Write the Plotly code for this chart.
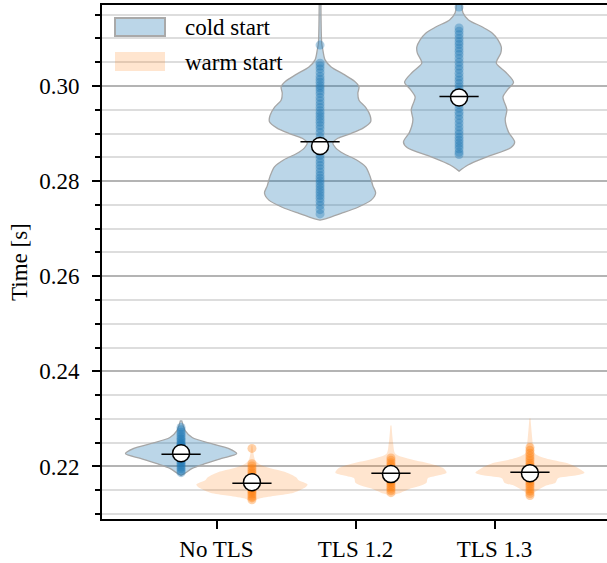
import plotly.graph_objects as go

# ---------------- data ----------------
categories = ["No TLS", "TLS 1.2", "TLS 1.3"]
hues = ["cold start", "warm start"]

# violin outlines: y value (s) and relative half-width (0..1)
cold_notls_y = [0.2297, 0.2282, 0.2276, 0.2261, 0.2248, 0.2238, 0.2227, 0.2217, 0.2206, 0.2196, 0.2185, 0.2181]
cold_notls_w = [0.01, 0.05, 0.07, 0.20, 0.55, 0.85, 1.00, 0.73, 0.43, 0.20, 0.06, 0.00]

cold_tls12_y = [0.3180, 0.3090, 0.3076, 0.3055, 0.3040, 0.3025, 0.3010, 0.2998, 0.2985, 0.2970, 0.2955,
                0.2938, 0.2925, 0.2912, 0.2900, 0.2890, 0.2880, 0.2870, 0.2858, 0.2845, 0.2830, 0.2810,
                0.2790, 0.2775, 0.2760, 0.2745, 0.2732, 0.2724, 0.2718]
cold_tls12_w = [0.015, 0.03, 0.05, 0.09, 0.20, 0.42, 0.62, 0.70, 0.68, 0.70, 0.82,
                0.90, 0.91, 0.78, 0.55, 0.32, 0.23, 0.28, 0.42, 0.65, 0.82, 0.90,
                0.95, 1.00, 0.92, 0.68, 0.38, 0.18, 0.00]

cold_tls13_y = [0.3180, 0.3170, 0.3154, 0.3139, 0.3124, 0.3111, 0.3097, 0.3082, 0.3069, 0.3048, 0.3029,
                0.3008, 0.2992, 0.2977, 0.2950, 0.2929, 0.2903, 0.2882, 0.2870, 0.2851, 0.2834, 0.2821]
cold_tls13_w = [0.05, 0.05, 0.07, 0.17, 0.42, 0.60, 0.70, 0.76, 0.75, 0.67, 0.84,
                0.98, 0.87, 0.79, 0.86, 0.83, 0.89, 1.00, 0.93, 0.50, 0.16, 0.00]

warm_notls_y = [0.2244, 0.2213, 0.2202, 0.2187, 0.2177, 0.2171, 0.2162, 0.2154, 0.2145, 0.2139, 0.2133, 0.2126]
warm_notls_w = [0.01, 0.06, 0.18, 0.63, 0.80, 0.84, 1.00, 0.93, 0.75, 0.45, 0.15, 0.00]

warm_tls12_y = [0.2286, 0.2248, 0.2227, 0.2217, 0.2206, 0.2196, 0.2187, 0.2181, 0.2175, 0.2166, 0.2160, 0.2154, 0.2145, 0.2139]
warm_tls12_w = [0.01, 0.04, 0.08, 0.30, 0.71, 0.95, 1.00, 0.84, 0.66, 0.64, 0.54, 0.36, 0.18, 0.00]

warm_tls13_y = [0.2301, 0.2240, 0.2227, 0.2215, 0.2206, 0.2196, 0.2187, 0.2181, 0.2175, 0.2166, 0.2160, 0.2150, 0.2139]
warm_tls13_w = [0.01, 0.06, 0.09, 0.35, 0.70, 0.88, 0.98, 0.82, 0.50, 0.46, 0.29, 0.14, 0.00]

# individual observations (strip points)
cold_notls_pts = [0.2282, 0.2277, 0.2272, 0.2268, 0.2263, 0.2259, 0.2256, 0.2252, 0.2249, 0.2246, 0.2244,
                  0.2242, 0.2240, 0.2238, 0.2236, 0.2234, 0.2232, 0.2231, 0.2229, 0.2227, 0.2225, 0.2223,
                  0.2222, 0.2220, 0.2218, 0.2216, 0.2213, 0.2210, 0.2207, 0.2203, 0.2199, 0.2195, 0.2191, 0.2187]
cold_tls12_pts = [0.3086, 0.3048, 0.3042, 0.3036, 0.3028, 0.3020, 0.3014, 0.3008, 0.3001, 0.2996, 0.2990,
                  0.2984, 0.2976, 0.2969, 0.2962, 0.2955, 0.2948, 0.2942, 0.2936, 0.2930, 0.2924, 0.2917,
                  0.2910, 0.2902, 0.2893, 0.2884, 0.2871, 0.2862, 0.2854, 0.2847, 0.2840, 0.2833, 0.2826,
                  0.2819, 0.2812, 0.2806, 0.2800, 0.2794, 0.2788, 0.2782, 0.2776, 0.2770, 0.2764, 0.2757,
                  0.2749, 0.2740, 0.2731]
cold_tls13_pts = [0.3166, 0.3122, 0.3115, 0.3108, 0.3100, 0.3093, 0.3087, 0.3080, 0.3073, 0.3066, 0.3058,
                  0.3050, 0.3042, 0.3035, 0.3027, 0.3019, 0.3012, 0.3005, 0.2998, 0.2991, 0.2984, 0.2977,
                  0.2969, 0.2961, 0.2953, 0.2945, 0.2938, 0.2930, 0.2922, 0.2914, 0.2906, 0.2899, 0.2892,
                  0.2886, 0.2880, 0.2874, 0.2868, 0.2861, 0.2856]
warm_notls_pts = [0.2238, 0.2206, 0.2201, 0.2196, 0.2191, 0.2187, 0.2183, 0.2179, 0.2176, 0.2173, 0.2170,
                  0.2167, 0.2164, 0.2161, 0.2158, 0.2155, 0.2152, 0.2149, 0.2146, 0.2142, 0.2138, 0.2134, 0.2130]
warm_tls12_pts = [0.2218, 0.2213, 0.2208, 0.2204, 0.2200, 0.2196, 0.2193, 0.2190, 0.2187, 0.2184, 0.2181,
                  0.2178, 0.2175, 0.2172, 0.2169, 0.2166, 0.2162, 0.2158, 0.2154, 0.2150, 0.2145]
warm_tls13_pts = [0.2240, 0.2234, 0.2228, 0.2222, 0.2217, 0.2212, 0.2207, 0.2203, 0.2199, 0.2195, 0.2191,
                  0.2188, 0.2185, 0.2182, 0.2179, 0.2176, 0.2173, 0.2170, 0.2166, 0.2162, 0.2158, 0.2153,
                  0.2148, 0.2143, 0.2139]

# means (circles) and medians (horizontal bars)
cold_means = [0.2228, 0.2874, 0.2976]
cold_medians = [0.2226, 0.2883, 0.2978]
warm_means = [0.2167, 0.2184, 0.2186]
warm_medians = [0.2165, 0.2186, 0.2188]

y_ticks = [0.22, 0.24, 0.26, 0.28, 0.30]
y_tick_labels = ["0.22", "0.24", "0.26", "0.28", "0.30"]

# ---------------- styling ----------------
FONT = "Liberation Serif"
FS = 23
HW = 0.40       # max half-width of a violin (x units)
OFF = 0.255     # dodge offset of the two hues
W, H = 607, 563
ML, MR, MT, MB = 102, 0, 5, 44

cold_fill = "rgba(31,119,180,0.30)"
warm_fill = "rgba(255,127,14,0.20)"
cold_edge = "#a6a6a6"
cold_dot = "rgba(31,119,180,0.36)"
warm_dot = "rgba(255,127,14,0.36)"

profiles = {
    "cold start": [(cold_notls_y, cold_notls_w), (cold_tls12_y, cold_tls12_w), (cold_tls13_y, cold_tls13_w)],
    "warm start": [(warm_notls_y, warm_notls_w), (warm_tls12_y, warm_tls12_w), (warm_tls13_y, warm_tls13_w)],
}
points = {
    "cold start": [cold_notls_pts, cold_tls12_pts, cold_tls13_pts],
    "warm start": [warm_notls_pts, warm_tls12_pts, warm_tls13_pts],
}
means = {"cold start": cold_means, "warm start": warm_means}
medians = {"cold start": cold_medians, "warm start": warm_medians}
offsets = {"cold start": -OFF, "warm start": OFF}
fills = {"cold start": cold_fill, "warm start": warm_fill}
dots = {"cold start": cold_dot, "warm start": warm_dot}

fig = go.Figure()

# violins
for hue in hues:
    for i, (ys, ws) in enumerate(profiles[hue]):
        c = i + offsets[hue]
        xs = [c + w * HW for w in ws] + [c - w * HW for w in reversed(ws)]
        yy = list(ys) + list(reversed(ys))
        if hue == "cold start":
            line = dict(color=cold_edge, width=1.3, shape="spline", smoothing=0.8)
        else:
            line = dict(color="rgba(0,0,0,0)", width=0, shape="spline", smoothing=0.8)
        fig.add_trace(go.Scatter(x=xs, y=yy, mode="lines", fill="toself", fillcolor=fills[hue],
                                 line=line, hoverinfo="skip", showlegend=False))

# strip points
for hue in hues:
    for i, pts in enumerate(points[hue]):
        c = i + offsets[hue]
        fig.add_trace(go.Scatter(x=[c] * len(pts), y=pts, mode="markers",
                                 marker=dict(size=9, color=dots[hue], line=dict(width=0)),
                                 hoverinfo="skip", showlegend=False))

# mean circles and median bars
for hue in hues:
    xs = [i + offsets[hue] for i in range(len(categories))]
    fig.add_trace(go.Scatter(x=xs, y=means[hue], mode="markers",
                             marker=dict(symbol="circle", size=17, color="white",
                                         line=dict(color="black", width=1.5)),
                             hoverinfo="skip", showlegend=False))
    fig.add_trace(go.Scatter(x=xs, y=medians[hue], mode="markers",
                             marker=dict(symbol="line-ew", size=28,
                                         line=dict(color="black", width=1.5)),
                             hoverinfo="skip", showlegend=False))

# ---------------- manual legend ----------------
def px(xp):
    return (xp - ML) / (W - ML - MR)

def py(yp):
    return 1 - (yp - MT) / (H - MT - MB)

fig.add_shape(type="rect", xref="paper", yref="paper", x0=px(115), x1=px(165), y0=py(36), y1=py(18),
              fillcolor=cold_fill, line=dict(color="#a9a9a9", width=2), layer="above")
fig.add_shape(type="rect", xref="paper", yref="paper", x0=px(115), x1=px(165), y0=py(71), y1=py(52),
              fillcolor=warm_fill, line=dict(width=0), layer="above")
fig.add_annotation(x=px(183), y=py(28), xref="paper", yref="paper", text=hues[0], showarrow=False,
                   xanchor="left", yanchor="middle", font=dict(family=FONT, size=FS, color="black"))
fig.add_annotation(x=px(183), y=py(62), xref="paper", yref="paper", text=hues[1], showarrow=False,
                   xanchor="left", yanchor="middle", font=dict(family=FONT, size=FS, color="black"))

# y-axis title
fig.add_annotation(x=px(19), y=0.5, xref="paper", yref="paper", text="Time [s]", showarrow=False,
                   textangle=-90, xanchor="center", yanchor="middle",
                   font=dict(family=FONT, size=FS, color="black"))

x_left = -(216.5 - ML) / 139.0
x_right = x_left + (W - ML - MR) / 139.0

fig.update_layout(
    width=W, height=H,
    margin=dict(l=ML, r=MR, t=MT, b=MB, pad=0),
    plot_bgcolor="white", paper_bgcolor="white",
    font=dict(family=FONT, size=FS, color="black"),
    showlegend=False,
    xaxis=dict(range=[x_left, x_right], tickmode="array", tickvals=[0, 1, 2], ticktext=categories,
               showgrid=False, zeroline=False, showline=True, linecolor="black", linewidth=2,
               mirror=True, ticks="outside", ticklen=8, tickwidth=1.5, tickcolor="black",
               tickfont=dict(family=FONT, size=FS, color="black"), ticklabelstandoff=0),
    yaxis=dict(range=[0.20896, 0.31703], tickmode="array", tickvals=y_ticks, ticktext=y_tick_labels,
               showgrid=True, gridcolor="#b4b4b4", gridwidth=1.6, zeroline=False,
               showline=True, linecolor="black", linewidth=2, mirror=False,
               ticks="outside", ticklen=8, tickwidth=1.5, tickcolor="black",
               tickfont=dict(family=FONT, size=FS, color="black"), ticklabelstandoff=8,
               minor=dict(dtick=0.005, tick0=0.0, showgrid=True, gridcolor="#dddddd", gridwidth=1.6,
                          ticks="outside", ticklen=5, tickwidth=1.5, tickcolor="black")),
)

fig.write_html("out.html")
